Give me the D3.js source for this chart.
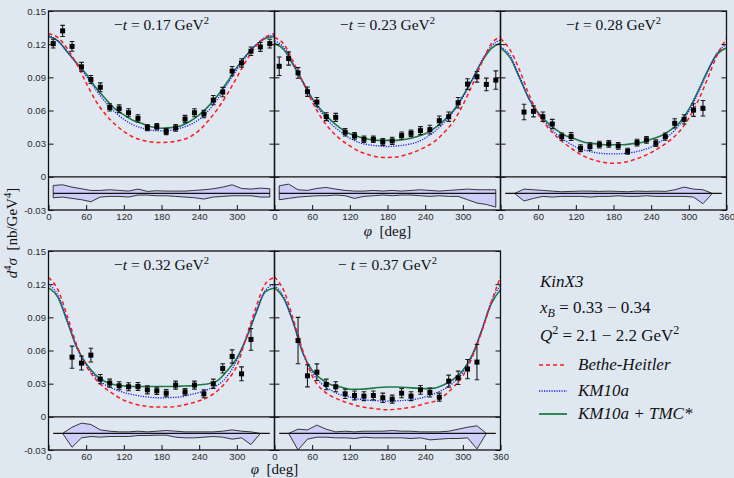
<!DOCTYPE html>
<html><head><meta charset="utf-8">
<script src="https://cdn.jsdelivr.net/npm/d3@7"></script>
<style>
html,body{margin:0;padding:0;background:#dfe8f1;}
svg{display:block;}
</style></head><body>
<svg id="c" width="734" height="478"></svg>
<script>
// ---------- data ----------
const tValues = ["0.17", "0.23", "0.28", "0.32", "0.37"];
const phiGrid = [0,15,30,45,60,75,90,105,120,135,150,165,180,195,210,225,240,255,270,285,300,315,330,345,360];
const xTicksMid = [0,60,120,180,240,300];
const xTicksEnd = [0,60,120,180,240,300,360];
const yTicks = [-0.03,0,0.03,0.06,0.09,0.12,0.15];
const yTickLabels = ["-0.03","0","0.03","0.06","0.09","0.12","0.15"];

// model curves (nb/GeV^4) on phiGrid
const bh017  = [0.1295,0.126,0.116,0.102,0.085,0.069,0.057,0.048,0.041,0.036,0.033,0.0315,0.031,0.0315,0.033,0.036,0.042,0.051,0.062,0.075,0.090,0.105,0.118,0.126,0.1295];
const km017  = [0.128,0.123,0.113,0.102,0.091,0.079,0.068,0.059,0.052,0.047,0.044,0.042,0.0415,0.042,0.044,0.047,0.052,0.060,0.071,0.084,0.097,0.109,0.119,0.126,0.128];
const tmc017 = [0.127,0.123,0.113,0.103,0.093,0.081,0.071,0.062,0.056,0.051,0.048,0.045,0.044,0.0445,0.046,0.050,0.056,0.064,0.074,0.086,0.099,0.110,0.119,0.125,0.127];

const bh023  = [0.126,0.120,0.104,0.086,0.068,0.053,0.042,0.034,0.028,0.023,0.020,0.018,0.0175,0.018,0.020,0.023,0.027,0.032,0.040,0.050,0.065,0.083,0.103,0.120,0.127];
const km023  = [0.123,0.117,0.102,0.086,0.070,0.058,0.048,0.041,0.035,0.031,0.029,0.028,0.0274,0.028,0.029,0.031,0.035,0.041,0.049,0.059,0.072,0.088,0.105,0.118,0.124];
const tmc023 = [0.1205,0.115,0.101,0.086,0.071,0.060,0.051,0.044,0.039,0.036,0.034,0.033,0.033,0.033,0.034,0.036,0.039,0.044,0.051,0.060,0.073,0.088,0.104,0.116,0.121];

const bh028  = [0.125,0.115,0.097,0.075,0.057,0.045,0.036,0.029,0.023,0.018,0.015,0.013,0.0123,0.013,0.015,0.018,0.022,0.027,0.033,0.041,0.053,0.069,0.089,0.110,0.125];
const km028  = [0.1175,0.110,0.091,0.071,0.057,0.047,0.038,0.032,0.027,0.024,0.022,0.021,0.0207,0.021,0.022,0.024,0.027,0.032,0.038,0.047,0.059,0.076,0.095,0.112,0.1196];
const tmc028 = [0.1166,0.108,0.090,0.071,0.058,0.049,0.042,0.037,0.034,0.031,0.030,0.029,0.029,0.029,0.030,0.031,0.034,0.037,0.042,0.049,0.061,0.078,0.096,0.111,0.1166];

const bh032  = [0.126,0.115,0.091,0.065,0.046,0.034,0.026,0.020,0.015,0.012,0.010,0.009,0.0088,0.009,0.010,0.012,0.0145,0.018,0.024,0.033,0.046,0.072,0.098,0.120,0.126];
const km032  = [0.120,0.110,0.087,0.063,0.047,0.036,0.029,0.025,0.022,0.020,0.0185,0.0175,0.0172,0.0175,0.018,0.020,0.022,0.025,0.029,0.037,0.051,0.071,0.094,0.114,0.120];
const tmc032 = [0.1166,0.108,0.086,0.063,0.048,0.038,0.032,0.029,0.028,0.0275,0.0275,0.0275,0.0275,0.0275,0.0278,0.028,0.029,0.030,0.033,0.042,0.053,0.071,0.093,0.113,0.1166];

const bh037  = [0.1265,0.114,0.088,0.060,0.037,0.025,0.019,0.015,0.012,0.0095,0.008,0.007,0.0063,0.007,0.008,0.0095,0.012,0.014,0.019,0.027,0.037,0.054,0.077,0.103,0.127];
const km037  = [0.119,0.108,0.085,0.058,0.040,0.030,0.024,0.020,0.018,0.016,0.015,0.0145,0.0142,0.0145,0.015,0.016,0.018,0.021,0.025,0.031,0.040,0.055,0.078,0.104,0.119];
const tmc037 = [0.1168,0.107,0.085,0.058,0.042,0.034,0.029,0.027,0.025,0.025,0.0255,0.0265,0.027,0.027,0.0265,0.026,0.0255,0.026,0.029,0.034,0.042,0.056,0.078,0.102,0.115];

// measured points
const phiBins  = [7.5,22.5,37.5,52.5,67.5,82.5,97.5,112.5,127.5,142.5,157.5,172.5,187.5,202.5,217.5,232.5,247.5,262.5,277.5,292.5,307.5,322.5,337.5,352.5];
const phiInner = [37.5,52.5,67.5,82.5,97.5,112.5,127.5,142.5,157.5,172.5,187.5,202.5,217.5,232.5,247.5,262.5,277.5,292.5,307.5,322.5];
const phiBandInner = [22.5,37.5,52.5,67.5,82.5,97.5,112.5,127.5,142.5,157.5,172.5,187.5,202.5,217.5,232.5,247.5,262.5,277.5,292.5,307.5,322.5,337.5];

const xs017  = [0.1205,0.132,0.118,0.0995,0.088,0.081,0.0628,0.0616,0.058,0.0529,0.0445,0.0454,0.041,0.0442,0.0523,0.058,0.0568,0.0694,0.0767,0.0956,0.103,0.1136,0.1175,0.1205];
const err017 = [0.004,0.005,0.0044,0.004,0.0036,0.004,0.0033,0.0035,0.0036,0.0033,0.0027,0.0028,0.0028,0.003,0.0033,0.0036,0.0033,0.0042,0.0042,0.0042,0.0038,0.0038,0.004,0.004];
const xs023  = [0.100,0.107,0.094,0.077,0.0676,0.0544,0.0538,0.0403,0.037,0.034,0.034,0.0316,0.0325,0.0373,0.0394,0.0418,0.0427,0.0508,0.0544,0.067,0.0839,0.0905,0.0836,0.0875];
const err023 = [0.0084,0.006,0.0048,0.0042,0.0042,0.0036,0.0036,0.0033,0.003,0.003,0.003,0.0031,0.0033,0.0033,0.003,0.0036,0.0039,0.0042,0.0042,0.0048,0.0048,0.0048,0.0057,0.0083];
const xs028  = [0.0586,0.0592,0.0544,0.0478,0.0364,0.0364,0.0259,0.0274,0.0292,0.0298,0.028,0.0231,0.031,0.0334,0.0304,0.0364,0.0484,0.052,0.0604,0.062];
const err028 = [0.007,0.005,0.0042,0.0042,0.0033,0.0036,0.0031,0.0033,0.003,0.003,0.003,0.0027,0.003,0.003,0.003,0.0033,0.0042,0.0042,0.0057,0.007];
const xs032  = [0.054,0.0486,0.0558,0.0341,0.0305,0.0281,0.0272,0.0275,0.0244,0.0235,0.0214,0.0287,0.0226,0.0287,0.0208,0.0299,0.0438,0.0546,0.0389,0.070];
const err032 = [0.010,0.0063,0.0062,0.0042,0.0036,0.0036,0.0036,0.0036,0.0036,0.0033,0.0033,0.0036,0.003,0.0036,0.0036,0.0042,0.0042,0.006,0.0063,0.0098];
const xs037  = [0.069,0.0371,0.0404,0.0293,0.0272,0.0208,0.0193,0.0187,0.0193,0.0172,0.016,0.0214,0.0187,0.0244,0.022,0.0178,0.0323,0.0353,0.0432,0.0495];
const err037 = [0.021,0.010,0.0075,0.0048,0.0045,0.0042,0.004,0.004,0.004,0.0042,0.0036,0.0042,0.004,0.004,0.004,0.0036,0.0054,0.006,0.0087,0.016];

// systematic-uncertainty bands around -0.015
const bandBase = -0.015;
const bandHi017 = [-0.0078,-0.0072,-0.0093,-0.0108,-0.0123,-0.0123,-0.0117,-0.0123,-0.0129,-0.0111,-0.0132,-0.0126,-0.0129,-0.0129,-0.0129,-0.0123,-0.0117,-0.0108,-0.0093,-0.0072,-0.0105,-0.0111,-0.0102,-0.0108];
const bandLo017 = [-0.0189,-0.0183,-0.0195,-0.0207,-0.0225,-0.0183,-0.0177,-0.0177,-0.0183,-0.0165,-0.0165,-0.0171,-0.0171,-0.0177,-0.0183,-0.0189,-0.0201,-0.0183,-0.0177,-0.0171,-0.0171,-0.0171,-0.0183,-0.0183];
const bandHi023 = [-0.0081,-0.0066,-0.0117,-0.0123,-0.0105,-0.0096,-0.0111,-0.0123,-0.0129,-0.0129,-0.0123,-0.0129,-0.0123,-0.0129,-0.0123,-0.0117,-0.0123,-0.0129,-0.0123,-0.0117,-0.0111,-0.0117,-0.0117,-0.0117];
const bandLo023 = [-0.0207,-0.0195,-0.0183,-0.0177,-0.0171,-0.0171,-0.0165,-0.0171,-0.0195,-0.0177,-0.0171,-0.0165,-0.0171,-0.0165,-0.0165,-0.0171,-0.0177,-0.0171,-0.0177,-0.0177,-0.0207,-0.0237,-0.0250,-0.0274];
const bandHi028 = [-0.015,-0.0111,-0.0117,-0.0123,-0.0129,-0.0135,-0.0132,-0.0129,-0.0129,-0.0132,-0.0129,-0.0132,-0.0135,-0.0129,-0.0132,-0.0129,-0.0132,-0.0117,-0.0093,-0.0111,-0.0117,-0.015];
const bandLo028 = [-0.015,-0.0219,-0.0195,-0.0177,-0.0183,-0.0177,-0.0177,-0.0177,-0.0183,-0.0177,-0.0177,-0.0171,-0.0177,-0.0177,-0.0171,-0.0177,-0.0177,-0.0177,-0.0177,-0.0183,-0.0243,-0.015];
const bandHi032 = [-0.015,-0.0094,-0.0057,-0.0069,-0.0118,-0.0130,-0.0136,-0.0136,-0.0130,-0.0136,-0.0130,-0.0124,-0.0130,-0.0136,-0.0136,-0.0136,-0.0136,-0.0130,-0.0118,-0.0130,-0.0136,-0.015];
const bandLo032 = [-0.015,-0.0275,-0.0190,-0.0178,-0.0184,-0.0178,-0.0178,-0.0178,-0.0169,-0.0169,-0.0166,-0.0166,-0.0184,-0.0190,-0.0190,-0.0184,-0.0178,-0.0184,-0.0202,-0.0190,-0.0251,-0.015];
const bandHi037 = [-0.015,-0.0112,-0.0118,-0.0075,-0.0112,-0.0136,-0.0130,-0.0136,-0.0130,-0.0130,-0.0130,-0.0124,-0.0130,-0.0130,-0.0136,-0.0136,-0.0136,-0.0130,-0.0112,-0.0094,-0.0081,-0.015];
const bandLo037 = [-0.015,-0.0300,-0.0202,-0.0184,-0.0184,-0.0190,-0.0190,-0.0196,-0.0184,-0.0190,-0.0190,-0.0190,-0.0190,-0.0196,-0.0190,-0.0208,-0.0202,-0.0196,-0.0196,-0.0190,-0.0290,-0.015];

const legendLabels = ["Bethe-Heitler", "KM10a", "KM10a + TMC*"];

// ---------- layout ----------
const colors = {bh:"#ff1a1a", km:"#1a1aff", tmc:"#1f7a47", band:"#cdcdfa"};
const panelW = 226, left0 = 48.5;
const rows = [[11, 210], [251, 450]];
const serif = "'Liberation Serif','DejaVu Serif',serif";
const sans = "'Liberation Sans',Arial,sans-serif";

const panels = [
  {row:0,col:0,t:tValues[0],bh:bh017,km:km017,tmc:tmc017,phi:phiBins,xs:xs017,err:err017,bphi:phiBins,bhi:bandHi017,blo:bandLo017,yl:true,xt:xTicksMid,gap:false},
  {row:0,col:1,t:tValues[1],bh:bh023,km:km023,tmc:tmc023,phi:phiBins,xs:xs023,err:err023,bphi:phiBins,bhi:bandHi023,blo:bandLo023,yl:false,xt:xTicksMid,gap:false},
  {row:0,col:2,t:tValues[2],bh:bh028,km:km028,tmc:tmc028,phi:phiInner,xs:xs028,err:err028,bphi:phiBandInner,bhi:bandHi028,blo:bandLo028,yl:false,xt:xTicksEnd,gap:false},
  {row:1,col:0,t:tValues[3],bh:bh032,km:km032,tmc:tmc032,phi:phiInner,xs:xs032,err:err032,bphi:phiBandInner,bhi:bandHi032,blo:bandLo032,yl:true,xt:xTicksMid,gap:false},
  {row:1,col:1,t:tValues[4],bh:bh037,km:km037,tmc:tmc037,phi:phiInner,xs:xs037,err:err037,bphi:phiBandInner,bhi:bandHi037,blo:bandLo037,yl:false,xt:xTicksEnd,gap:true}
];

const svg = d3.select("#c");
const defs = svg.append("defs");

panels.forEach((p, i) => {
  const x0 = left0 + p.col * panelW;
  const [top, bot] = rows[p.row];
  const x = d3.scaleLinear().domain([0, 360]).range([x0, x0 + panelW]);
  const y = d3.scaleLinear().domain([-0.03, 0.15]).range([bot, top]);
  const g = svg.append("g");

  defs.append("clipPath").attr("id", "clip" + i)
    .append("rect").attr("x", x0).attr("y", top).attr("width", panelW).attr("height", bot - top);
  const inner = g.append("g").attr("clip-path", `url(#clip${i})`);

  // zero line
  inner.append("line").attr("x1", x(0)).attr("x2", x(360)).attr("y1", y(0)).attr("y2", y(0))
    .attr("stroke", "#111").attr("stroke-width", 1.1);

  // band
  const bandData = p.bphi.map((f, k) => ({f, hi: p.bhi[k], lo: p.blo[k]}));
  inner.append("path").datum(bandData)
    .attr("d", d3.area().x(d => x(d.f)).y0(d => y(d.lo)).y1(d => y(d.hi)))
    .attr("fill", colors.band).attr("stroke", "#222").attr("stroke-width", 0.9).attr("stroke-linejoin", "round");
  inner.append("line").attr("x1", x(phiBins[0])).attr("x2", x(phiBins[phiBins.length - 1]))
    .attr("y1", y(bandBase)).attr("y2", y(bandBase)).attr("stroke", "#111").attr("stroke-width", 1.1);

  // curves
  const line = vals => d3.line().x((d, k) => x(phiGrid[k])).y(d => y(d)).curve(d3.curveMonotoneX)(vals);
  inner.append("path").attr("d", line(p.tmc)).attr("fill", "none").attr("stroke", colors.tmc).attr("stroke-width", 1.6);
  inner.append("path").attr("d", line(p.km)).attr("fill", "none").attr("stroke", colors.km).attr("stroke-width", 1.3).attr("stroke-dasharray", "1.2,1.3");
  inner.append("path").attr("d", line(p.bh)).attr("fill", "none").attr("stroke", colors.bh).attr("stroke-width", 1.5).attr("stroke-dasharray", "4,3");

  // points
  const pts = p.phi.map((f, k) => ({f, v: p.xs[k], e: p.err[k]}));
  const pg = inner.append("g");
  pg.selectAll("line.eb").data(pts).join("line").attr("class", "eb")
    .attr("x1", d => x(d.f)).attr("x2", d => x(d.f))
    .attr("y1", d => y(d.v - d.e)).attr("y2", d => y(d.v + d.e))
    .attr("stroke", "#1a1a1a").attr("stroke-width", 1.1);
  [1, -1].forEach(s => {
    pg.selectAll("line.cap" + (s > 0 ? "a" : "b")).data(pts).join("line").attr("class", "cap" + (s > 0 ? "a" : "b"))
      .attr("x1", d => x(d.f) - 2.3).attr("x2", d => x(d.f) + 2.3)
      .attr("y1", d => y(d.v + s * d.e)).attr("y2", d => y(d.v + s * d.e))
      .attr("stroke", "#1a1a1a").attr("stroke-width", 1.1);
  });
  pg.selectAll("rect").data(pts).join("rect")
    .attr("x", d => x(d.f) - 2.5).attr("y", d => y(d.v) - 2.5).attr("width", 5).attr("height", 5)
    .attr("fill", "#000");

  // axes
  const ax = g.append("g").attr("transform", `translate(0,${bot})`)
    .call(d3.axisBottom(x).tickValues(p.xt).tickSize(-5).tickPadding(3.5).tickFormat(d3.format("d")));
  ax.select(".domain").remove();
  const ayl = g.append("g").attr("transform", `translate(${x0},0)`)
    .call(d3.axisLeft(y).tickValues(yTicks).tickSize(-5).tickPadding(2.5)
      .tickFormat((d, k) => p.yl ? yTickLabels[k] : ""));
  ayl.select(".domain").remove();
  const ayr = g.append("g").attr("transform", `translate(${x0 + panelW},0)`)
    .call(d3.axisRight(y).tickValues(yTicks).tickSize(-5).tickFormat(""));
  ayr.select(".domain").remove();
  g.selectAll(".tick line").attr("stroke", "#111").attr("stroke-width", 1);
  g.selectAll(".tick text").attr("font-family", sans).attr("font-size", 9.6).attr("fill", "#2a2a2a");

  // frame
  g.append("rect").attr("x", x0).attr("y", top).attr("width", panelW).attr("height", bot - top)
    .attr("fill", "none").attr("stroke", "#111").attr("stroke-width", 1.3);

  // title
  const tt = g.append("text").attr("x", x0 + panelW / 2).attr("y", top + 18.5)
    .attr("text-anchor", "middle").attr("font-family", serif).attr("font-size", 15.5).attr("fill", "#111");
  tt.append("tspan").text(p.gap ? "\u2212 " : "\u2212");
  tt.append("tspan").attr("font-style", "italic").text("t");
  tt.append("tspan").text(" = " + p.t + " GeV");
  tt.append("tspan").attr("font-size", 10.5).attr("dy", -6).text("2");
});

// axis titles
function phiTitle(cx, by) {
  const t = svg.append("text").attr("x", cx).attr("y", by).attr("text-anchor", "middle")
    .attr("font-family", serif).attr("font-size", 15).attr("fill", "#111");
  t.append("tspan").attr("font-style", "italic").text("\u03C6");
  t.append("tspan").text("\u2002[deg]");
}
phiTitle(left0 + 1.5 * panelW, 236);
phiTitle(left0 + panelW, 474);

const yl = svg.append("text").attr("transform", "translate(17,233) rotate(-90)")
  .attr("text-anchor", "middle").attr("font-family", serif).attr("font-size", 15).attr("fill", "#111");
yl.append("tspan").attr("font-style", "italic").text("d");
yl.append("tspan").attr("font-size", 10.5).attr("dy", -6).text("4");
yl.append("tspan").attr("font-style", "italic").attr("dy", 6).text("\u03C3");
yl.append("tspan").text("\u2002[nb/GeV");
yl.append("tspan").attr("font-size", 10.5).attr("dy", -6).text("4");
yl.append("tspan").attr("dy", 6).text("]");

// legend
const lg = svg.append("g").attr("font-family", serif).attr("fill", "#111");
lg.append("text").attr("x", 540).attr("y", 287).attr("font-size", 17).attr("font-style", "italic").text("KinX3");
const l2 = lg.append("text").attr("x", 540).attr("y", 313).attr("font-size", 17);
l2.append("tspan").attr("font-style", "italic").text("x");
l2.append("tspan").attr("font-style", "italic").attr("font-size", 12).attr("dy", 4).text("B");
l2.append("tspan").attr("dy", -4).text(" = 0.33 \u2212 0.34");
const l3 = lg.append("text").attr("x", 540).attr("y", 341).attr("font-size", 17);
l3.append("tspan").attr("font-style", "italic").text("Q");
l3.append("tspan").attr("font-size", 12).attr("dy", -7).text("2");
l3.append("tspan").attr("dy", 7).text(" = 2.1 \u2212 2.2 GeV");
l3.append("tspan").attr("font-size", 12).attr("dy", -7).text("2");

const legStyles = [
  {c: colors.bh, w: 1.5, dash: "4,3"},
  {c: colors.km, w: 1.3, dash: "1.2,1.3"},
  {c: colors.tmc, w: 1.8, dash: null}
];
const legY = [365, 391, 414];
legendLabels.forEach((lab, k) => {
  const s = legStyles[k];
  lg.append("line").attr("x1", 539).attr("x2", 567).attr("y1", legY[k]).attr("y2", legY[k])
    .attr("stroke", s.c).attr("stroke-width", s.w).attr("stroke-dasharray", s.dash);
  lg.append("text").attr("x", 578).attr("y", legY[k] + 5).attr("font-size", 17).attr("font-style", "italic").text(lab);
});
</script></body></html>
